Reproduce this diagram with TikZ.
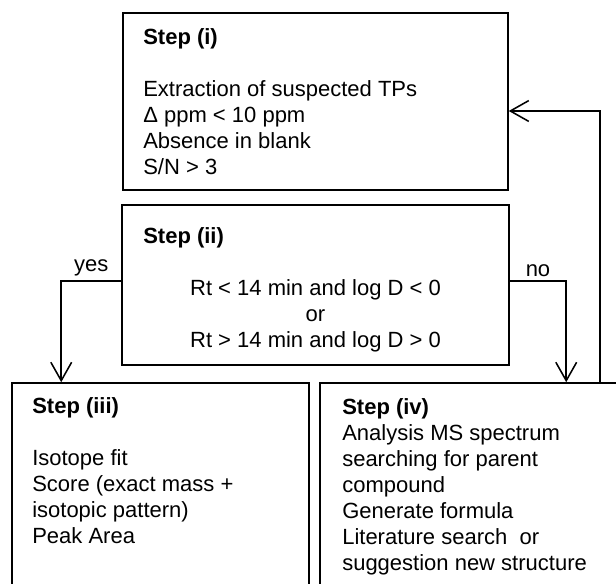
\documentclass[tikz,border=0pt]{standalone}
\usepackage{fontspec}
\setmainfont{Liberation Sans}
\usetikzlibrary{arrows.meta}
\begin{document}
\begin{tikzpicture}[
    stepbox/.style={draw, line width=1.1pt, inner sep=0pt},
    steptext/.style={font=\fontsize{15.65}{18.55}\selectfont, inner sep=0pt},
    flow/.style={line width=1.1pt, -{Straight Barb[length=4.6mm,width=5.2mm]}}
  ]
        \useasboundingbox (0,0) rectangle (15.4,14.6);
        \clip (0,0) rectangle (15.4,14.6);

        % boxes
        \node [stepbox, minimum width=9.625cm, minimum height=4.425cm] (stepi) at (7.8875,12.0625) {};
        \node [stepbox, minimum width=9.675cm, minimum height=4cm] (stepii) at (7.8875,7.475) {};
        \node [stepbox, minimum width=7.425cm, minimum height=5.525cm] (stepiii) at (4.0125,2.2625) {};
        \node [stepbox, minimum width=8cm, minimum height=5.525cm] (stepiv) at (12,2.2625) {};

        % texts
        \node [steptext, align=left, anchor=north west] (texti) at (3.575,13.9)
            {\textbf{Step (i)}\\[18.55pt]
             Extraction of suspected TPs\\
             Δ ppm < 10 ppm\\
             Absence in blank\\
             S/N > 3};
        \node [steptext, anchor=north west] (titleii) at (3.575,8.925) {\textbf{Step (ii)}};
        \node [steptext, align=center, anchor=north] (textii) at (7.8875,7.625)
            {Rt < 14 min and log D < 0\\
             or\\
             Rt > 14 min and log D > 0};
        \node [steptext, align=left, anchor=north west] (textiii) at (0.8,4.675)
            {\textbf{Step (iii)}\\[18.55pt]
             Isotope fit\\
             Score (exact mass +\\
             isotopic pattern)\\
             Peak Area};
        \node [steptext, align=left, anchor=north west] (textiv) at (8.55,4.65)
            {\textbf{Step (iv)}\\
             Analysis MS spectrum\\
             searching for parent\\
             compound\\
             Generate formula\\
             Literature search~ or\\
             suggestion new structure};

        % connectors
        \draw [flow] ([yshift=0.1cm]stepii.west) -| ([xshift=1.25cm]stepiii.north west)
            node [steptext, pos=0.25, above=0.1cm] (yes) {yes};
        \draw [flow] ([yshift=0.1cm]stepii.east) -| ([xshift=6.175cm]stepiv.north west)
            node [steptext, pos=0.25, above=0.1cm] (no) {no};
        \draw [flow] ([xshift=7.025cm]stepiv.north west) |- ([yshift=-0.2375cm]stepi.east);
\end{tikzpicture}
\end{document}
